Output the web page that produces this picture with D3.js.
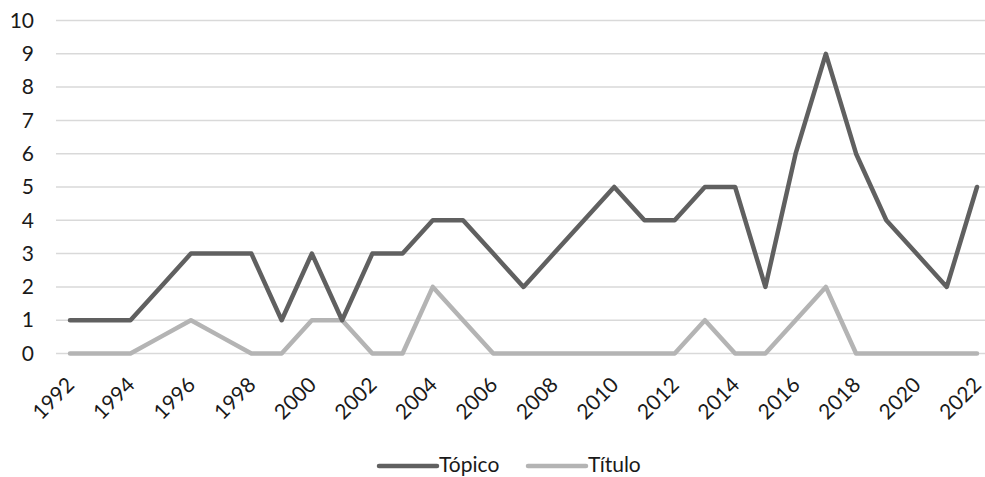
<!DOCTYPE html>
<html>
<head>
<meta charset="utf-8">
<script src="https://cdn.jsdelivr.net/npm/d3@7"></script>
<style>
  html, body { margin: 0; padding: 0; background: #fff; }
  svg { display: block; font-family: Lato, "Open Sans", sans-serif; }
</style>
</head>
<body>
<svg id="chart" width="985" height="477"></svg>
<script>
// Yearly counts, 1992–2022
const years = d3.range(1992, 2023);
const topico = [1, 1, 1, 2, 3, 3, 3, 1, 3, 1, 3, 3, 4, 4, 3, 2, 3, 4, 5, 4, 4, 5, 5, 2, 6, 9, 6, 4, 3, 2, 5];
const titulo = [0, 0, 0, 0.5, 1, 0.5, 0, 0, 1, 1, 0, 0, 2, 1, 0, 0, 0, 0, 0, 0, 0, 1, 0, 0, 1, 2, 0, 0, 0, 0, 0];
const yTicks = [0, 1, 2, 3, 4, 5, 6, 7, 8, 9, 10];
const xTickYears = years.filter(y => (y - 1992) % 2 === 0);

const seriesNames = ["Tópico", "Título"];
const seriesColors = ["#606060", "#b4b4b4"];
const seriesData = [topico, titulo];

const svg = d3.select("#chart");

const x = d3.scaleLinear().domain([1992, 2022]).range([70, 977]);
const y = d3.scaleLinear().domain([0, 10]).range([353.5, 20.5]);

// horizontal gridlines
svg.append("g")
  .selectAll("line")
  .data(yTicks)
  .join("line")
  .attr("x1", 56)
  .attr("x2", 985)
  .attr("y1", d => y(d))
  .attr("y2", d => y(d))
  .attr("stroke", "#d9d9d9")
  .attr("stroke-width", 1.5);

// y axis labels
const yAxis = d3.axisLeft(y).tickValues(yTicks).tickSize(0).tickPadding(0);
svg.append("g")
  .attr("transform", "translate(34,0)")
  .call(yAxis)
  .call(g => g.select(".domain").remove())
  .call(g => g.selectAll("text")
    .attr("font-size", 21)
    .attr("font-family", "Lato, 'Open Sans', sans-serif")
    .attr("fill", "#1a1a1a"));

// x axis labels, rotated -45°
const xAxis = d3.axisBottom(x).tickValues(xTickYears).tickFormat(d3.format("d")).tickSize(0);
svg.append("g")
  .attr("transform", "translate(0,381)")
  .call(xAxis)
  .call(g => g.select(".domain").remove())
  .call(g => g.selectAll("text")
    .attr("font-size", 21)
    .attr("font-family", "Lato, 'Open Sans', sans-serif")
    .attr("fill", "#1a1a1a")
    .attr("text-anchor", "end")
    .attr("x", 0)
    .attr("y", 0)
    .attr("dy", "0.35em")
    .attr("transform", "rotate(-45)"));

// series lines (light drawn first so dark sits on top)
const line = d3.line()
  .x((d, i) => x(years[i]))
  .y(d => y(d));

[1, 0].forEach(k => {
  svg.append("path")
    .datum(seriesData[k])
    .attr("d", line)
    .attr("fill", "none")
    .attr("stroke", seriesColors[k])
    .attr("stroke-width", 4.5)
    .attr("stroke-linejoin", "round")
    .attr("stroke-linecap", "round");
});

// legend
const legendItems = [
  { name: seriesNames[0], color: seriesColors[0], x0: 379 },
  { name: seriesNames[1], color: seriesColors[1], x0: 528 }
];
const lg = svg.append("g");
legendItems.forEach(it => {
  lg.append("line")
    .attr("x1", it.x0).attr("x2", it.x0 + 58)
    .attr("y1", 466).attr("y2", 466)
    .attr("stroke", it.color)
    .attr("stroke-width", 4.5)
    .attr("stroke-linecap", "round");
  lg.append("text")
    .attr("x", it.x0 + 60)
    .attr("y", 472)
    .attr("font-size", 21)
    .attr("fill", "#1a1a1a")
    .text(it.name);
});
</script>
</body>
</html>
